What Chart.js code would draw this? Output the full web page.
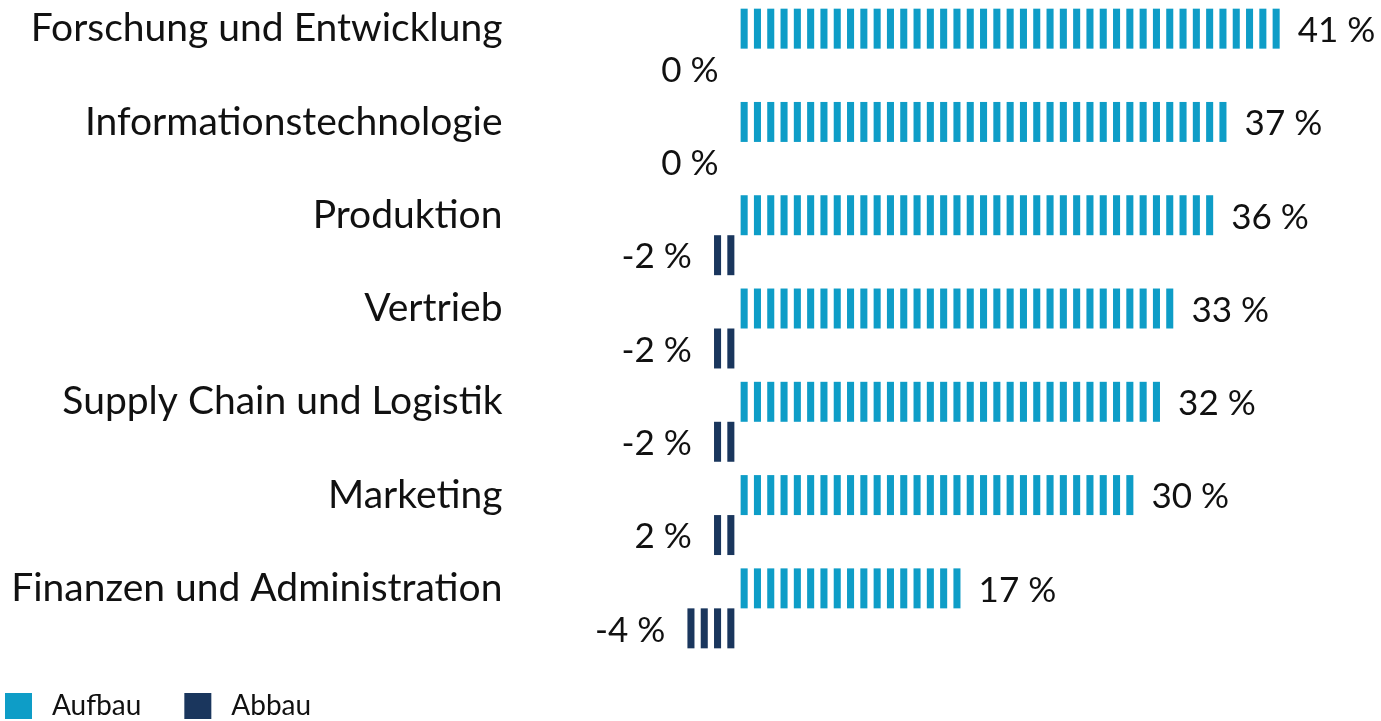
<!DOCTYPE html>
<html lang="de">
<head>
<meta charset="UTF-8">
<title>Aufbau und Abbau nach Bereich</title>
<script src="https://cdn.jsdelivr.net/npm/chart.js@4"></script>
<style>
  html, body { margin: 0; padding: 0; background: #fff; }
  canvas { display: block; }
</style>
</head>
<body>
<canvas id="chart" width="1381" height="721"></canvas>
<script>
// Data
const categories = [
  'Forschung und Entwicklung',
  'Informationstechnologie',
  'Produktion',
  'Vertrieb',
  'Supply Chain und Logistik',
  'Marketing',
  'Finanzen und Administration'
];
const aufbau = [41, 37, 36, 33, 32, 30, 17];
const abbau = [0, 0, -2, -2, -2, -2, -4];
// labels as printed in the source (Marketing shows "2 %")
const aufbauLabels = ['41 %', '37 %', '36 %', '33 %', '32 %', '30 %', '17 %'];
const abbauLabels = ['0 %', '0 %', '-2 %', '-2 %', '-2 %', '2 %', '-4 %'];

const COLOR_AUFBAU = '#0e9dc7';
const COLOR_ABBAU = '#1a365d';
const FONT = 'Lato, "Open Sans", sans-serif';

// Each percent is drawn as one vertical stripe, plus value labels and legend
const stripes = {
  id: 'stripes',
  beforeDatasetDraw(chart, args) {
    const ctx = chart.ctx;
    const x = chart.scales.x;
    const ds = chart.data.datasets[args.index];
    const unit = Math.abs(x.getPixelForValue(1) - x.getPixelForValue(0));
    const w = unit * 0.53;
    ctx.save();
    ctx.fillStyle = ds.backgroundColor;
    args.meta.data.forEach((bar, i) => {
      const v = ds.data[i];
      const n = Math.round(Math.abs(v));
      const s = Math.sign(v);
      const top = bar.y - bar.height / 2;
      for (let k = 0; k < n; k++) {
        const c = x.getPixelForValue(s * (k + 0.5));
        ctx.fillRect(c - w / 2, top, w, bar.height);
      }
    });
    ctx.restore();
    return false;
  },
  afterDatasetsDraw(chart) {
    const ctx = chart.ctx;
    const x = chart.scales.x;
    ctx.save();
    ctx.font = '35px ' + FONT;
    ctx.fillStyle = '#111';
    ctx.textBaseline = 'middle';
    chart.data.datasets.forEach((ds, di) => {
      const meta = chart.getDatasetMeta(di);
      meta.data.forEach((bar, i) => {
        const px = x.getPixelForValue(ds.data[i]);
        if (di === 0) {
          ctx.textAlign = 'left';
          ctx.fillText(ds.valueLabels[i], px + 15, bar.y + 2);
        } else {
          ctx.textAlign = 'right';
          ctx.fillText(ds.valueLabels[i], px - 19, bar.y + 2);
        }
      });
    });
    ctx.restore();
  },
  afterDraw(chart) {
    // legend, bottom left
    const ctx = chart.ctx;
    ctx.save();
    ctx.font = '28px ' + FONT;
    ctx.textBaseline = 'middle';
    ctx.textAlign = 'left';
    let xPos = 5;
    const yMid = 706;
    chart.data.datasets.forEach(ds => {
      ctx.fillStyle = ds.backgroundColor;
      ctx.fillRect(xPos, yMid - 13, 27, 26);
      ctx.fillStyle = '#111';
      ctx.fillText(ds.label, xPos + 47, yMid);
      xPos += 47 + ctx.measureText(ds.label).width + 43;
    });
    ctx.restore();
  }
};

new Chart(document.getElementById('chart'), {
  type: 'bar',
  data: {
    labels: categories,
    datasets: [
      { label: 'Aufbau', data: aufbau, valueLabels: aufbauLabels, backgroundColor: COLOR_AUFBAU },
      { label: 'Abbau', data: abbau, valueLabels: abbauLabels, backgroundColor: COLOR_ABBAU }
    ]
  },
  options: {
    indexAxis: 'y',
    responsive: false,
    animation: false,
    categoryPercentage: 0.857,
    barPercentage: 1,
    layout: { padding: { left: 0, right: 45, top: 2, bottom: 66 } },
    scales: {
      x: { display: false, min: -10, max: 45 },
      y: {
        grid: { display: false, drawTicks: false },
        border: { display: false },
        ticks: {
          color: '#111',
          font: { family: FONT, size: 39 },
          padding: 102,
          labelOffset: -20
        },
        afterFit(scale) {
          scale.width = 604.5;
          scale.paddingTop = 0;
          scale.paddingBottom = 0;
        }
      }
    },
    plugins: {
      tooltip: { enabled: false },
      legend: { display: false }
    }
  },
  plugins: [stripes]
});
</script>
</body>
</html>
